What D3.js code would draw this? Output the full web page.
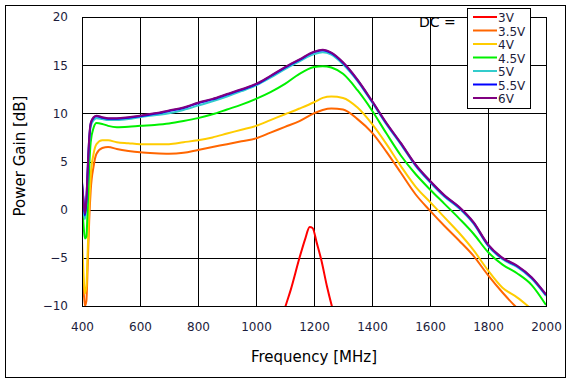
<!DOCTYPE html>
<html><head><meta charset="utf-8">
<script src="https://cdn.jsdelivr.net/npm/d3@7"></script>
<style>body{margin:0;background:#fff}svg{display:block}text{font-family:"DejaVu Sans",Verdana,sans-serif}</style>
</head><body><svg id="c" width="571" height="383"></svg>
<script>
const freq = [400,405,410,415,420,425,430,440,450,470,490,520,560,600,650,700,750,800,850,900,950,1000,1050,1100,1150,1200,1230,1260,1300,1350,1400,1450,1500,1550,1600,1650,1700,1750,1800,1850,1900,1950,2000];
const v6   = [2.7,1.0,-0.4,1.0,4.5,7.5,9.0,9.6,9.75,9.6,9.5,9.5,9.6,9.75,10.0,10.3,10.6,11.1,11.5,12.0,12.5,13.05,13.9,14.8,15.6,16.4,16.6,16.3,15.3,13.5,11.3,9.0,6.9,4.7,3.0,1.5,0.3,-1.3,-3.6,-5.0,-5.8,-7.0,-8.8];
const v55  = [2.9,1.1,-0.6,0.9,4.4,7.4,8.9,9.55,9.7,9.55,9.45,9.45,9.55,9.7,9.95,10.25,10.55,11.05,11.45,11.95,12.45,13.0,13.85,14.75,15.55,16.35,16.55,16.25,15.25,13.45,11.25,8.95,6.85,4.65,2.95,1.45,0.25,-1.35,-3.65,-5.05,-5.85,-7.05,-8.85];
const v5   = [1.6,0.0,-1.0,0.5,4.0,7.0,8.6,9.3,9.5,9.4,9.3,9.3,9.4,9.6,9.8,10.0,10.35,10.8,11.25,11.75,12.3,12.9,13.7,14.6,15.4,16.15,16.35,16.1,15.1,13.35,11.15,8.85,6.75,4.55,2.85,1.35,0.15,-1.45,-3.75,-5.15,-5.95,-7.15,-8.95];
const v45  = [0.4,-1.5,-3.0,-2.8,0.5,4.5,7.0,8.5,9.0,8.9,8.7,8.55,8.6,8.7,8.8,8.95,9.2,9.5,9.9,10.4,10.9,11.5,12.2,13.05,14.1,14.8,14.9,14.75,14.1,12.4,10.3,7.9,5.6,3.7,2.1,0.6,-0.9,-2.5,-4.4,-5.7,-6.6,-7.8,-9.9];
const v4   = [-3.2,-6.5,-8.7,-8.0,-4.0,0.5,3.5,5.8,6.8,7.2,7.2,7.0,6.9,6.8,6.8,6.8,7.0,7.2,7.5,7.9,8.3,8.7,9.3,9.9,10.5,11.15,11.6,11.75,11.6,10.6,8.9,6.8,4.5,2.4,0.8,-0.8,-2.4,-4.2,-6.3,-8.1,-9.1,-10.3,-11.5];
const v35  = [-4.6,-8.0,-10.0,-9.5,-5.5,-1.0,2.0,4.5,5.8,6.4,6.5,6.3,6.1,5.95,5.85,5.8,5.9,6.2,6.5,6.8,7.1,7.4,8.0,8.6,9.2,10.0,10.35,10.5,10.4,9.4,8.0,6.0,3.8,1.6,-0.1,-1.7,-3.2,-4.8,-6.8,-8.6,-10.2,-11.5,-12.5];
const freq3 = [1080,1100,1120,1150,1170,1185,1195,1210,1225,1245,1265,1285];
const v3    = [-12.5,-10.2,-8.3,-5.0,-3.0,-1.8,-1.9,-3.5,-5.2,-8.0,-10.4,-12.5];
const seriesNames = ["3V","3.5V","4V","4.5V","5V","5.5V","6V"];
const seriesColors = ["#ff0000","#ff6600","#ffcc00","#00f000","#33cccc","#0000ff","#800080"];
const xTicks = [400,600,800,1000,1200,1400,1600,1800,2000];
const yTicks = [-10,-5,0,5,10,15,20];

const svg = d3.select("#c");
const L=82, R=546, T=17, B=306;
const x = d3.scaleLinear().domain([400,2000]).range([L,R]);
const y = d3.scaleLinear().domain([-10,20]).range([B,T]);

svg.append("rect").attr("x",5.5).attr("y",5.5).attr("width",560).attr("height",372)
  .attr("fill","#fff").attr("stroke","#000").attr("stroke-width",1);

svg.append("defs").append("clipPath").attr("id","clip")
  .append("rect").attr("x",L).attr("y",T).attr("width",R-L).attr("height",B-T);

// grid
const g = svg.append("g");
g.selectAll(".vx").data(xTicks).join("line")
  .attr("x1",d=>Math.round(x(d))+0.5).attr("x2",d=>Math.round(x(d))+0.5)
  .attr("y1",T).attr("y2",B).attr("stroke","#000").attr("stroke-width",1);
g.selectAll(".hy").data(yTicks).join("line")
  .attr("y1",d=>Math.round(y(d))+0.5).attr("y2",d=>Math.round(y(d))+0.5)
  .attr("x1",L).attr("x2",R).attr("stroke","#000").attr("stroke-width",1);

// axes labels via d3 axes
const xAxis = svg.append("g").attr("transform",`translate(0,${B})`)
  .call(d3.axisBottom(x).tickValues(xTicks).tickSize(0).tickPadding(16).tickFormat(d3.format("d")));
const yAxis = svg.append("g").attr("transform",`translate(${L},0)`)
  .call(d3.axisLeft(y).tickValues(yTicks).tickSize(0).tickPadding(14).tickFormat(d3.format("d")));
[xAxis,yAxis].forEach(a=>{a.select(".domain").remove();
  a.selectAll("text").attr("font-size",12).attr("fill","#1c1c3c")
   .attr("font-family",'"DejaVu Sans",Verdana,sans-serif');});

svg.append("text").attr("x",(L+R)/2).attr("y",362).attr("text-anchor","middle")
  .attr("font-size",15).attr("fill","#000").text("Frequency [MHz]");
svg.append("text").attr("transform","translate(25,156) rotate(-90)").attr("text-anchor","middle")
  .attr("font-size",15).attr("fill","#000").text("Power Gain [dB]");

// lines
const line = d3.line().x(d=>x(d[0])).y(d=>y(d[1])).curve(d3.curveMonotoneX);
const allSeries = [
  d3.zip(freq3,v3), d3.zip(freq,v35), d3.zip(freq,v4), d3.zip(freq,v45),
  d3.zip(freq,v5), d3.zip(freq,v55), d3.zip(freq,v6)
];
const lg = svg.append("g").attr("clip-path","url(#clip)");
lg.selectAll("path").data(allSeries).join("path")
  .attr("d",line).attr("fill","none")
  .attr("stroke",(d,i)=>seriesColors[i]).attr("stroke-width",2);

// plot border
svg.append("rect").attr("x",L+0.5).attr("y",T+0.5).attr("width",R-L).attr("height",B-T)
  .attr("fill","none").attr("stroke","#000");

// legend
svg.append("text").attr("x",419).attr("y",27).attr("font-size",14).attr("fill","#000").text("DC =");
const leg = svg.append("g");
leg.append("rect").attr("x",467.5).attr("y",8.5).attr("width",63).attr("height",100)
  .attr("fill","#fff").attr("stroke","#000");
const ly = d3.scalePoint().domain(seriesNames).range([17,98]);
leg.selectAll("line").data(seriesNames).join("line")
  .attr("x1",473).attr("x2",497).attr("y1",d=>ly(d)).attr("y2",d=>ly(d))
  .attr("stroke",(d,i)=>seriesColors[i]).attr("stroke-width",2);
leg.selectAll("text").data(seriesNames).join("text")
  .attr("x",498).attr("y",d=>ly(d)+5).attr("font-size",12).attr("fill","#1c1c3c").text(d=>d);
</script></body></html>
